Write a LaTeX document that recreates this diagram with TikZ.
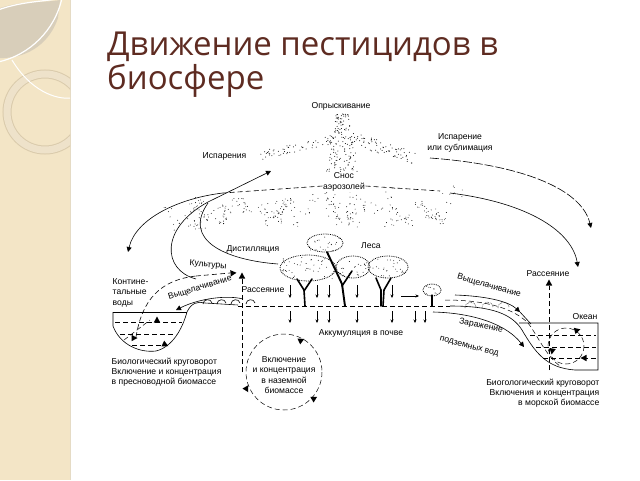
\documentclass[tikz,border=0pt]{standalone}
\usepackage{fontspec}
\setmainfont{Liberation Sans}
\newfontfamily\titlefont{Open Sans}
\usetikzlibrary{arrows.meta}
\definecolor{strip}{RGB}{243,229,198}
\definecolor{leafc}{RGB}{216,206,186}
\definecolor{ringc}{RGB}{238,226,202}
\definecolor{ringe}{RGB}{218,203,172}
\definecolor{titlec}{RGB}{94,43,33}
\tikzset{
  lbl/.style={font=\fontsize{8.6}{10.3}\selectfont, inner sep=0.5pt, align=center},
  ln/.style={line width=0.6pt},
  arr/.style={line width=0.6pt, -{Triangle[length=5pt,width=5pt]}},
  dsh/.style={line width=0.6pt, dash pattern=on 5pt off 3pt},
  darr/.style={line width=0.5pt, -{Stealth[length=3.5pt,width=3pt]}},
  crown/.style={line width=0.8pt, densely dotted},
  trunk/.style={line width=1.6pt, line cap=round},
  tri/.pic={\fill (2.5,0) -- (-3.5,3.2) -- (-3.5,-3.2) -- cycle;}
}
\newcommand\mydot[2]{\fill (#1,#2) circle[radius=0.5pt];}
\begin{document}
\begin{tikzpicture}[x=1pt,y=-1pt]
\useasboundingbox (0,0) rectangle (640,480);
\fill[white] (0,0) rectangle (640,480);
% left decorative strip
\fill[strip] (0,0) rectangle (70,480);
\draw[ringe!70!white, line width=0.6pt] (70,0) -- (70,480);
\begin{scope}
\clip (0,0) rectangle (70,480);
\fill[leafc] (0,8) .. controls (25,0) and (45,3) .. (60,0) -- (58,18) .. controls (50,42) and (30,57) .. (4,58) -- (0,58) -- cycle;
\draw[white, line width=1.2pt] (62,-2) .. controls (55,30) and (30,55) .. (-2,62);
\draw[white, line width=1.2pt] (-2,10) .. controls (25,0) and (50,2) .. (72,-4);
\draw[ringe, line width=9pt] (45,112) circle[radius=38];
\draw[ringc, line width=7pt] (45,112) circle[radius=38];
\draw[white, line width=1pt] (12,60) .. controls (30,90) and (55,100) .. (72,98);
\end{scope}
% title
\node[font=\titlefont\fontsize{33}{35}\selectfont, text=titlec, anchor=base west, inner sep=0pt] (t1) at (107,55) {Движение пестицидов в};
\node[font=\titlefont\fontsize{33}{35}\selectfont, text=titlec, anchor=base west, inner sep=0pt] (t2) at (107,89) {биосфере};
% ---------- spray cloud ----------
\pgfmathsetseed{4321}
\foreach \i in {1,...,170}{
  \pgfmathsetmacro\tt{rnd}
  \pgfmathsetmacro\py{114+78*\tt}
  \pgfmathsetmacro\px{336-13*\tt+rnd*(12+28*\tt)}
  \mydot{\px}{\py}
}
% thin band to the left (Испарения)
\foreach \i in {1,...,60}{
  \pgfmathsetmacro\tt{rnd}
  \pgfmathsetmacro\px{334-76*\tt}
  \pgfmathsetmacro\py{139+17*\tt+(rnd-0.5)*9}
  \mydot{\px}{\py}
}
% thin band to the right (сублимация)
\foreach \i in {1,...,70}{
  \pgfmathsetmacro\tt{rnd}
  \pgfmathsetmacro\px{350+66*\tt}
  \pgfmathsetmacro\py{138+20*\tt+(rnd-0.5)*13}
  \mydot{\px}{\py}
}
% lower left band (clusters)
\foreach \k in {1,...,42}{
  \pgfmathsetmacro\cx{163+rnd*175}
  \pgfmathsetmacro\cy{196+rnd*24+(338-\cx)*0.035}
  \foreach \j in {1,...,5}{
    \fill ({\cx+(rnd-0.5)*12},{\cy+(rnd-0.5)*12}) circle[radius=0.45pt];
  }
}
% lower right band (clusters)
\foreach \k in {1,...,26}{
  \pgfmathsetmacro\cx{350+rnd*108}
  \pgfmathsetmacro\cy{190+rnd*33}
  \foreach \j in {1,...,5}{
    \fill ({\cx+(rnd-0.5)*12},{\cy+(rnd-0.5)*12}) circle[radius=0.45pt];
  }
}
% ---------- trees ----------
\draw[crown] (308,268) ellipse[x radius=28, y radius=13];
\draw[crown] (325,243) ellipse[x radius=18, y radius=9];
\draw[crown] (353,267) ellipse[x radius=17, y radius=11];
\draw[crown] (388,267) ellipse[x radius=20, y radius=11];
\draw[crown] (432,290) ellipse[x radius=9, y radius=6];
\foreach \cx/\cy/\rx/\ry/\n in {308/268/26/11/40, 325/243/16/8/22, 353/267/15/9/22, 388/267/18/9/25, 432/290/7/4/8}{
  \foreach \j in {1,...,\n}{
    \fill ({\cx+(rnd-0.5)*2*\rx},{\cy+(rnd-0.5)*2*\ry}) circle[radius=0.45pt];
  }
}
\draw[trunk] (305,306) -- (304,290) -- (297,279);
\draw[trunk] (304,291) -- (312,279);
\draw[trunk, line width=1.9pt] (345,306) -- (342,284) -- (327,252);
\draw[trunk] (342,286) -- (352,271);
\draw[trunk] (381,306) -- (381,290) -- (376,278);
\draw[trunk] (383,306) -- (384,290) -- (391,278);
\draw[trunk, line width=1.2pt] (432,306) -- (432,295);
% ---------- ground and water ----------
% left basin
\draw[ln] (113,312) -- (187,312);
\draw[ln] (113,312) -- (113,326) .. controls (120,345) and (140,353) .. (156,351) .. controls (172,347) and (182,330) .. (187,312) .. controls (191,303) and (198,301) .. (205,303) -- (238,305);
\draw[dsh] (238,306) -- (450,306);
\foreach \yy/\xa/\xb in {322/115/182, 334/120/176, 345/132/163}{
  \draw[dsh, line width=0.5pt] (\xa,\yy) -- (\xb,\yy);
}
\draw[dsh, line width=0.5pt] (124,340) -- (150,320);
\pic[rotate=90] at (157,319) {tri};
\pic at (135,338) {tri};
\pic[rotate=-25] at (166,345) {tri};
% bushes left
\foreach \bx in {203,217,231,246}{
  \draw[ln] (\bx,304) .. controls (\bx,299) and (\bx+8,298) .. (\bx+9,303);
}
% right shore and ocean
\draw[ln] (450,306) .. controls (492,306) and (512,314) .. (522,330) .. controls (535,352) and (546,368) .. (575,370) -- (598,370) -- (598,323) -- (519,323);
\draw[dsh, line width=0.5pt] (445,300) .. controls (490,300) and (515,310) .. (528,323) .. controls (538,336) and (546,356) .. (560,366);
\foreach \yy/\xa in {335/530, 347/536, 358/543}{
  \draw[dsh, line width=0.5pt] (\xa,\yy) -- (596,\yy);
}
\draw[dsh, line width=0.5pt] (566,346) circle[radius=18];
\pic[rotate=15] at (578,330) {tri};
\pic[rotate=-100] at (552,352) {tri};
\pic[rotate=180] at (583,358) {tri};
% bushes right
\foreach \bx in {465,482,498}{
  \draw[ln, densely dotted] (\bx,308) .. controls (\bx,301) and (\bx+10,300) .. (\bx+11,307);
}
% ---------- labels ----------
\node[lbl] (spray) at (341,106) {Опрыскивание};
\node[lbl] (subl) at (460,143) {Испарение\\или сублимация};
\node[lbl, anchor=west] (evap) at (202,156) {Испарения};
\node[lbl, fill=white] (snos) at (344,182) {Снос\\аэрозолей};
\node[lbl] (dist) at (253,249) {Дистилляция};
\node[lbl] (forest) at (371,246) {Леса};
\node[lbl, rotate=-5] (crops) at (208,265) {Культуры};
\node[lbl, align=left, anchor=north west] (cont) at (112,278) {Контине-\\тальные\\воды};
\node[lbl, rotate=17] (leachL) at (200,288) {Выщелачивание};
\node[lbl] (scatL) at (263,290) {Рассеяние};
\node[lbl] (scatR) at (548,274) {Рассеяние};
\node[lbl, rotate=-16] (leachR) at (489,286) {Выщелачивание};
\node[lbl] (ocean) at (585,317) {Океан};
\node[lbl, rotate=-12] (gw1) at (481,326) {Заражение};
\node[lbl, rotate=-15] (gw2) at (469,347) {подземных вод};
\node[lbl] (accum) at (361,333) {Аккумуляция в почве};
\node[lbl] (incl) at (284,375) {Включение\\и концентрация\\в наземной\\биомассе};
\node[lbl, align=left, anchor=north west] (fresh) at (111,357) {Биологический круговорот\\Включение и концентрация\\в пресноводной биомассе};
\node[lbl, align=right, anchor=north east] (sea) at (600,378) {Биогологический круговорот\\Включения и концентрация\\в морской биомассе};
% ---------- flows ----------
\coordinate (J) at (223,193);
\draw[dsh] (snos.west) ++(0,4) -- (J);
\draw[arr] (J) .. controls (180,198) and (136,218) .. (128,252);
\draw[arr] (196,279) .. controls (162,270) and (160,228) .. (208,202) -- (271,171);
\draw[ln] (278,264) .. controls (225,260) and (182,240) .. (208,203);
\draw[dsh] (136,337) .. controls (142,300) and (160,280) .. (196,276);
\draw[dsh] (196,276) -- (230,273);
\pic[rotate=5] at (234,273) {tri};
\draw[dsh] (242,372) -- (242,279);
\pic[rotate=90] at (242,275) {tri};
\draw[arr] (243,299) .. controls (228,295) and (200,298) .. (176,310);
% right side flows
\draw[dsh] (snos.east) ++(0,4) -- (440,191);
\draw[arr] (450,193) .. controls (530,203) and (572,232) .. (578,267);
\draw[arr, dash pattern=on 9pt off 2pt] (430,158) .. controls (525,165) and (582,190) .. (591,228);
\draw[dsh] (549,370) -- (549,286);
\pic[rotate=90] at (549,282) {tri};
\draw[arr] (455,295) .. controls (485,296) and (508,301) .. (520,312);
\draw[ln] (520,312) -- (531,324);
\draw[arr] (433,312) .. controls (475,313) and (507,325) .. (524,347);
% small arrows at the soil
\foreach \xx in {290,317,329,357,392}{
  \draw[darr] (\xx,285) -- (\xx,298);
}
\foreach \xx in {290,317,329,357,392,415,425}{
  \draw[darr] (\xx,311) -- (\xx,323);
}
\draw[darr] (401,296) -- (419,296);
% cycle on land
\draw[dsh, line width=0.5pt] (284,372) circle[radius=38];
\pic[rotate=25] at (302,340) {tri};
\pic[rotate=-60] at (247,390) {tri};
\pic[rotate=30] at (315,398) {tri};
\end{tikzpicture}
\end{document}
